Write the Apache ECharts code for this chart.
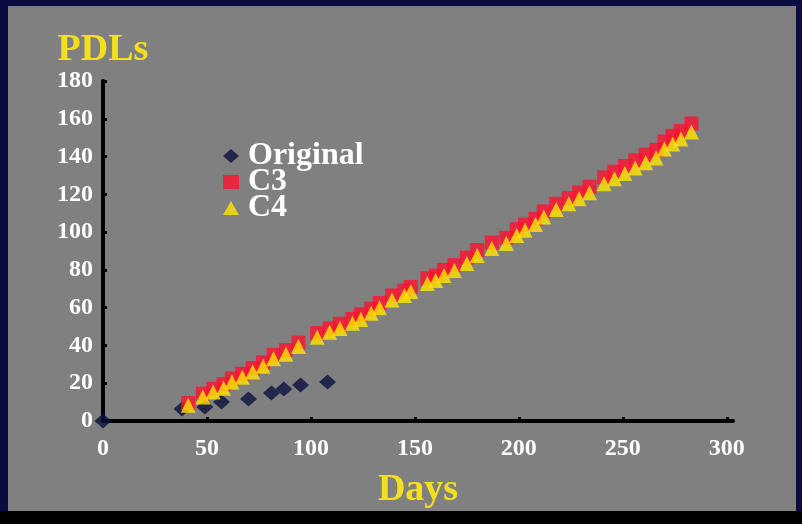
<!DOCTYPE html>
<html>
<head>
<meta charset="utf-8">
<script src="https://cdn.jsdelivr.net/npm/echarts@6/dist/echarts.min.js"></script>
<style>
  html, body { margin: 0; padding: 0; background: #0b0b40; }
  #chart { width: 802px; height: 524px; }
</style>
</head>
<body>
<div id="chart"></div>
<script>
// Population doublings over time for the original culture and two clones
const originalDays = [0, 38, 49, 57, 70, 81, 87, 95, 108];
const originalPDL  = [0, 6.4, 7.4, 10.1, 11.6, 14.8, 16.9, 19.1, 20.6];

const cloneDays = [41, 48, 53, 58, 62, 67, 72, 77, 82, 88,
                   94, 103, 109, 114, 120, 124, 129, 133, 139, 145,
                   148, 156, 160, 164, 169, 175, 180, 187, 194, 199,
                   203, 208, 212, 218, 224, 229, 234, 241, 246, 251,
                   256, 261, 266, 270, 274, 278, 283];
const c3PDL = [9.5, 14.5, 17, 19.5, 22.5, 25, 28, 31, 35, 37.5,
               41.5, 46.5, 49, 51.5, 54, 56.5, 59.5, 62.5, 66.5, 69,
               71, 75.5, 77, 80, 82.5, 86.5, 90.5, 94.5, 97, 101.5,
               104, 107, 111, 115, 118, 121, 124, 129, 132, 135,
               138, 141, 143.5, 148, 151, 153.5, 157.5];
const c4PDL = [8.4, 12.7, 15.3, 17.4, 20.6, 23.2, 25.9, 29, 33, 35.4,
               39.5, 44.3, 47, 49, 51.7, 53.8, 57, 60, 64, 66.5,
               68.6, 72.8, 74.4, 77, 79.7, 83.4, 87.6, 91.3, 94, 98.2,
               101, 104, 108, 112, 115, 117.7, 120.8, 125.6, 128.2, 131,
               134, 136.7, 139.3, 144, 146.7, 149.3, 153];

const xTicks = [0, 50, 100, 150, 200, 250, 300];
const yTicks = [0, 20, 40, 60, 80, 100, 120, 140, 160, 180];

const pairs = (xs, ys) => xs.map((x, i) => [x, ys[i]]);

const serif = '"Liberation Serif", "DejaVu Serif", serif';
const shadowText = {
  color: '#ffffff',
  fontFamily: serif,
  fontWeight: 'bold',
  textShadowColor: '#000000',
  textShadowOffsetX: 2,
  textShadowOffsetY: 2,
  textShadowBlur: 0
};
const titleText = Object.assign({}, shadowText, { color: '#f2e01e', fontSize: 38 });

const chart = echarts.init(document.getElementById('chart'), null, { renderer: 'canvas' });

chart.setOption({
  backgroundColor: '#0b0b40',
  animation: false,
  graphic: [
    { type: 'rect', z: -10, silent: true, shape: { x: 8, y: 6, width: 788, height: 505 }, style: { fill: '#808080' } },
    { type: 'rect', z: -10, silent: true, shape: { x: 0, y: 511, width: 802, height: 13 }, style: { fill: '#000000' } }
  ],
  grid: { left: 103, right: 69, top: 81, bottom: 103 },
  legend: {
    orient: 'vertical',
    left: 218,
    top: 135,
    itemWidth: 16,
    itemHeight: 14,
    itemGap: -6,
    textStyle: Object.assign({}, shadowText, { fontSize: 32, lineHeight: 27, padding: [0, 0, 0, 4] }),
    data: ['Original', 'C3', 'C4']
  },
  xAxis: {
    type: 'value',
    min: 0,
    max: 303,
    interval: 50,
    name: 'Days',
    nameLocation: 'middle',
    nameGap: 50,
    nameTextStyle: titleText,
    splitLine: { show: false },
    axisLine: { onZero: false, lineStyle: { color: '#000000', width: 4 } },
    axisTick: { inside: true, length: 4, customValues: xTicks, lineStyle: { color: '#000000', width: 3 } },
    axisLabel: Object.assign({}, shadowText, {
      fontSize: 24,
      margin: 16,
      customValues: xTicks
    })
  },
  yAxis: {
    type: 'value',
    min: 0,
    max: 180,
    interval: 20,
    name: 'PDLs',
    nameLocation: 'end',
    nameGap: 10,
    nameTextStyle: titleText,
    splitLine: { show: false },
    axisLine: { onZero: false, lineStyle: { color: '#000000', width: 4 } },
    axisTick: { inside: true, length: 4, customValues: yTicks, lineStyle: { color: '#000000', width: 3 } },
    axisLabel: Object.assign({}, shadowText, {
      fontSize: 24,
      margin: 10,
      customValues: yTicks
    })
  },
  series: [
    {
      name: 'Original',
      type: 'scatter',
      symbol: 'diamond',
      symbolSize: [17, 15],
      itemStyle: { color: '#0a0f3c' },
      data: pairs(originalDays, originalPDL)
    },
    {
      name: 'C3',
      type: 'scatter',
      symbol: 'rect',
      symbolSize: 14,
      itemStyle: { color: '#ff1030' },
      data: pairs(cloneDays, c3PDL)
    },
    {
      name: 'C4',
      type: 'scatter',
      symbol: 'triangle',
      symbolSize: 15,
      itemStyle: { color: '#ffe600' },
      data: pairs(cloneDays, c4PDL)
    }
  ]
});
</script>
</body>
</html>
